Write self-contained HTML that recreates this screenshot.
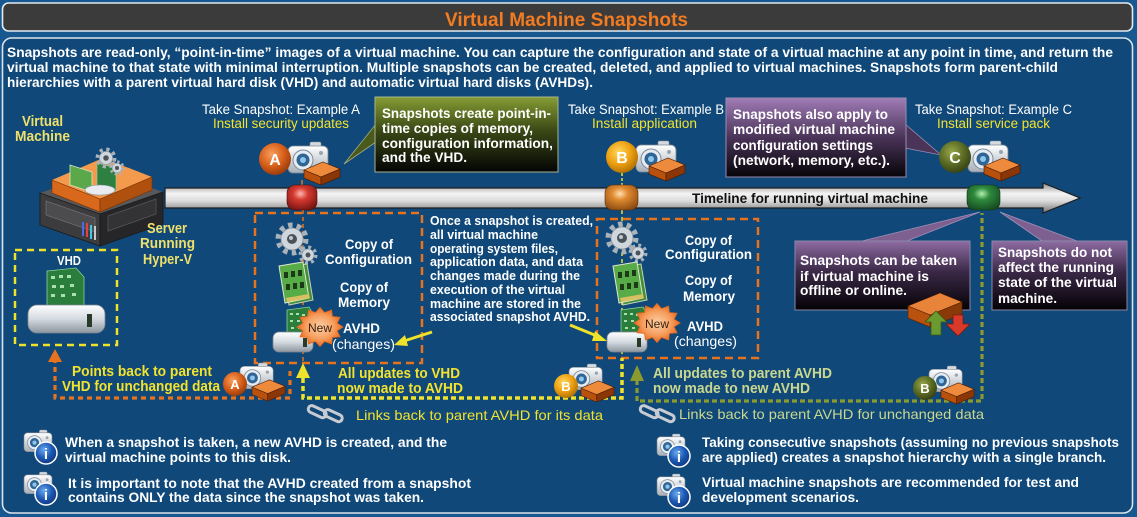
<!DOCTYPE html>
<html><head><meta charset="utf-8"><style>
html,body{margin:0;padding:0;background:#175890;}
svg{display:block}
text{font-family:"Liberation Sans",sans-serif;}
.w{fill:#fff;font-weight:bold;}
.wn{fill:#fff;}
.y{fill:#f3e32e;font-weight:bold;}
.yp{fill:#efe06a;font-weight:bold;}
.g{fill:#cad78e;font-weight:bold;}
</style></head><body>
<svg xmlns="http://www.w3.org/2000/svg" width="1137" height="517" viewBox="0 0 1137 517">
<defs>
 <linearGradient id="barG" x1="0" y1="0" x2="0" y2="1"><stop offset="0" stop-color="#8a8a8a"/><stop offset=".35" stop-color="#f4f4f4"/><stop offset=".6" stop-color="#dadada"/><stop offset="1" stop-color="#747474"/></linearGradient>
 <linearGradient id="camG" x1="0" y1="0" x2="0" y2="1"><stop offset="0" stop-color="#ffffff"/><stop offset="1" stop-color="#a6afb8"/></linearGradient>
 <linearGradient id="driveG" x1="0" y1="0" x2="0" y2="1"><stop offset="0" stop-color="#ffffff"/><stop offset=".5" stop-color="#d4dae0"/><stop offset="1" stop-color="#8c959e"/></linearGradient>
 <radialGradient id="redB" cx=".45" cy=".35" r=".7"><stop offset="0" stop-color="#ffb8b0"/><stop offset=".35" stop-color="#d63a30"/><stop offset="1" stop-color="#741410"/></radialGradient>
 <radialGradient id="oraB" cx=".45" cy=".35" r=".7"><stop offset="0" stop-color="#ffe0b0"/><stop offset=".35" stop-color="#e08a30"/><stop offset="1" stop-color="#8a4a10"/></radialGradient>
 <radialGradient id="grnB" cx=".45" cy=".35" r=".7"><stop offset="0" stop-color="#b0f0b0"/><stop offset=".35" stop-color="#2e8a3c"/><stop offset="1" stop-color="#164a22"/></radialGradient>
 <radialGradient id="cA" cx=".4" cy=".35" r=".75"><stop offset="0" stop-color="#f8a060"/><stop offset=".5" stop-color="#d8601a"/><stop offset="1" stop-color="#8a3208"/></radialGradient>
 <radialGradient id="cB" cx=".4" cy=".35" r=".75"><stop offset="0" stop-color="#ffd860"/><stop offset=".5" stop-color="#eea010"/><stop offset="1" stop-color="#a06400"/></radialGradient>
 <radialGradient id="cC" cx=".4" cy=".35" r=".75"><stop offset="0" stop-color="#98a84a"/><stop offset=".5" stop-color="#5c6c24"/><stop offset="1" stop-color="#2c3610"/></radialGradient>
 <radialGradient id="infoG" cx=".4" cy=".35" r=".75"><stop offset="0" stop-color="#6aaaf0"/><stop offset=".5" stop-color="#1c58b4"/><stop offset="1" stop-color="#0c3070"/></radialGradient>
 <radialGradient id="burstG" cx=".5" cy=".5" r=".5"><stop offset="0" stop-color="#fbd0a8"/><stop offset=".6" stop-color="#f6a060"/><stop offset="1" stop-color="#e86a20"/></radialGradient>
 <linearGradient id="grC" x1="0" y1="0" x2="0" y2="1"><stop offset="0" stop-color="#869c34"/><stop offset=".45" stop-color="#3a4816"/><stop offset="1" stop-color="#040404"/></linearGradient>
 <linearGradient id="puC" x1="0" y1="0" x2="0" y2="1"><stop offset="0" stop-color="#a07cb6"/><stop offset=".5" stop-color="#4a3458"/><stop offset="1" stop-color="#060408"/></linearGradient>
 <linearGradient id="puC2" x1="0" y1="0" x2="0" y2="1"><stop offset="0" stop-color="#8e6ca2"/><stop offset=".45" stop-color="#3a2846"/><stop offset="1" stop-color="#050306"/></linearGradient>
 <g id="cam">
  <rect x="22" y="0" width="11" height="6" rx="1.5" fill="#d5dade" stroke="#8a949e" stroke-width=".6"/>
  <rect x="0" y="4" width="40" height="27" rx="5" fill="url(#camG)" stroke="#7d8792" stroke-width=".8"/>
  <circle cx="15" cy="18" r="10" fill="#e6ebf0" stroke="#7a8a9a"/>
  <circle cx="15" cy="18" r="6.5" fill="#2f6494"/>
  <circle cx="15" cy="18" r="3" fill="#8cc6ee"/>
  <circle cx="33" cy="11" r="2" fill="#9aa4ae"/>
 </g>
 <g id="dbox" stroke="#4a1a00" stroke-width=".6">
  <polygon points="0,10 19,2 36,9 17,17" fill="#ee8a3c"/>
  <polygon points="0,10 17,17 17,25 0,18" fill="#b8500e"/>
  <polygon points="17,17 36,9 36,17 17,25" fill="#8a3606"/>
 </g>
 <polygon id="burst" fill="url(#burstG)" stroke="#e06a1c" stroke-width=".8" points="21,0 15.5,4.1 18.2,10.5 11.3,11.3 10.5,18.2 4.1,15.5 0,21 -4.1,15.5 -10.5,18.2 -11.3,11.3 -18.2,10.5 -15.5,4.1 -21,0 -15.5,-4.1 -18.2,-10.5 -11.3,-11.3 -10.5,-18.2 -4.1,-15.5 0,-21 4.1,-15.5 10.5,-18.2 11.3,-11.3 18.2,-10.5 15.5,-4.1"/>
 <g id="gear">
  <circle cx="0" cy="0" r="13" fill="none" stroke="#aab2ba" stroke-width="7" stroke-dasharray="4.2 3.97"/>
  <circle cx="0" cy="0" r="11" fill="#cfd6dc" stroke="#8a949e" stroke-width=".8"/>
  <circle cx="0" cy="0" r="5" fill="#4a525a"/>
  <circle cx="-1" cy="-1" r="2" fill="#c0c8d0"/>
 </g>
 <g id="sgear">
  <circle cx="0" cy="0" r="7" fill="none" stroke="#aab2ba" stroke-width="5" stroke-dasharray="2.6 2.9"/>
  <circle cx="0" cy="0" r="6" fill="#cfd6dc" stroke="#8a949e" stroke-width=".6"/>
  <circle cx="0" cy="0" r="2.5" fill="#4a525a"/>
 </g>
 <g id="mem">
  <polygon points="283,268 307,264 313,300 289,305" fill="#3f8e38" stroke="#c8d0b8" stroke-width="1"/>
  <polygon points="279,266 303,262 309,298 285,303" fill="#58ac48" stroke="#dfe6d0" stroke-width="1"/>
  <g fill="#1c3a18"><rect x="284" y="272" width="4" height="6"/><rect x="291" y="271" width="4" height="6"/><rect x="298" y="270" width="4" height="6"/><rect x="286" y="284" width="4" height="6"/><rect x="293" y="283" width="4" height="6"/><rect x="300" y="282" width="4" height="6"/></g>
  <polygon points="286,298 309,294 310,298 287,302" fill="#d8c060"/>
 </g>
 <g id="avhd">
  <polygon points="287,310 309,307 312,312 312,337 287,337" fill="#2b7d3c" stroke="#8ad09a" stroke-width=".8"/>
  <g fill="#a8e0b0"><rect x="290" y="313" width="3" height="2"/><rect x="296" y="313" width="3" height="2"/><rect x="302" y="314" width="3" height="2"/><rect x="290" y="320" width="3" height="2"/><rect x="297" y="320" width="3" height="2"/><rect x="304" y="321" width="3" height="2"/><rect x="291" y="327" width="3" height="2"/><rect x="298" y="327" width="3" height="2"/></g>
  <rect x="273" y="332" width="40" height="20" rx="6" fill="url(#driveG)" stroke="#7c8690" stroke-width=".8"/>
  <rect x="303" y="338" width="4" height="9" fill="#2a3a2a"/>
 </g>
</defs>

<!-- frame -->
<rect x="0" y="0" width="1137" height="517" fill="#175890"/>
<rect x="2.5" y="3" width="1130" height="28" rx="6" fill="#3b3b3b" stroke="#e4eaf0" stroke-width="1.6"/>
<rect x="2.5" y="38" width="1130" height="475" rx="9" fill="#0f4879" stroke="#dbe3eb" stroke-width="1.6"/>
<text x="445" y="26" font-size="19" font-weight="bold" fill="#f27c22" textLength="243" lengthAdjust="spacingAndGlyphs">Virtual Machine Snapshots</text>

<!-- intro -->
<text class="w" x="7" y="57" font-size="14" textLength="1106" lengthAdjust="spacingAndGlyphs">Snapshots are read-only, “point-in-time” images of a virtual machine. You can capture the configuration and state of a virtual machine at any point in time, and return the</text>
<text class="w" x="7" y="72" font-size="14" textLength="1051" lengthAdjust="spacingAndGlyphs">virtual machine to that state with minimal interruption. Multiple snapshots can be created, deleted, and applied to virtual machines. Snapshots form parent-child</text>
<text class="w" x="7" y="87" font-size="14" textLength="586" lengthAdjust="spacingAndGlyphs">hierarchies with a parent virtual hard disk (VHD) and automatic virtual hard disks (AVHDs).</text>

<!-- labels top -->
<text class="yp" x="22" y="126" font-size="15" textLength="41" lengthAdjust="spacingAndGlyphs">Virtual</text>
<text class="yp" x="15" y="141" font-size="15" textLength="55" lengthAdjust="spacingAndGlyphs">Machine</text>
<text class="wn" x="202" y="114" font-size="13.5" textLength="158" lengthAdjust="spacingAndGlyphs">Take Snapshot: Example A</text>
<text class="y" x="213" y="128" font-size="13.5" textLength="136" lengthAdjust="spacingAndGlyphs" style="font-weight:normal">Install security updates</text>
<text class="wn" x="568" y="114" font-size="13.5" textLength="156" lengthAdjust="spacingAndGlyphs">Take Snapshot: Example B</text>
<text class="y" x="592" y="128" font-size="13.5" textLength="105" lengthAdjust="spacingAndGlyphs" style="font-weight:normal">Install application</text>
<text class="wn" x="915" y="114" font-size="13.5" textLength="157" lengthAdjust="spacingAndGlyphs">Take Snapshot: Example C</text>
<text class="y" x="937" y="128" font-size="13.5" textLength="113" lengthAdjust="spacingAndGlyphs" style="font-weight:normal">Install service pack</text>

<!-- green callout -->
<polygon points="376,124 344,164 376,142" fill="#4a5a1c" stroke="#a0ac84" stroke-width=".8"/>
<rect x="375" y="97" width="183" height="75" fill="url(#grC)" stroke="#a8b48a" stroke-width="1"/>
<text class="w" x="382" y="118" font-size="14" textLength="169" lengthAdjust="spacingAndGlyphs">Snapshots create point-in-</text>
<text class="w" x="382" y="133" font-size="14" textLength="151" lengthAdjust="spacingAndGlyphs">time copies of memory,</text>
<text class="w" x="382" y="148" font-size="14" textLength="171" lengthAdjust="spacingAndGlyphs">configuration information,</text>
<text class="w" x="382" y="162" font-size="14" textLength="85" lengthAdjust="spacingAndGlyphs">and the VHD.</text>

<!-- purple top callout -->
<polygon points="905,124 941,155 905,148" fill="#4a3458" stroke="#9a8ab0" stroke-width=".8"/>
<rect x="726" y="98" width="180" height="79" fill="url(#puC)" stroke="#9a8ab0" stroke-width="1"/>
<text class="w" x="733" y="119" font-size="14" textLength="155" lengthAdjust="spacingAndGlyphs">Snapshots also apply to</text>
<text class="w" x="733" y="134" font-size="14" textLength="162" lengthAdjust="spacingAndGlyphs">modified virtual machine</text>
<text class="w" x="733" y="150" font-size="14" textLength="140" lengthAdjust="spacingAndGlyphs">configuration settings</text>
<text class="w" x="733" y="165" font-size="14" textLength="157" lengthAdjust="spacingAndGlyphs">(network, memory, etc.).</text>

<!-- server VM -->
<g>
 <polygon points="40,193 103,171 163,192 100,214" fill="#58585a"/>
 <polygon points="40,193 100,214 100,246 40,225" fill="#3c3c3e" stroke="#1a1a1a" stroke-width=".8"/>
 <polygon points="100,214 163,192 163,224 100,246" fill="#262628" stroke="#1a1a1a" stroke-width=".8"/>
 <polygon points="46,201 95,218 95,232 46,215" fill="#4c4c4e" stroke="#6e6e70" stroke-width=".8"/>
 <polygon points="108,216 156,199 156,214 108,231" fill="#333335" stroke="#555" stroke-width=".8"/>
 <g stroke-width="2"><line x1="83" y1="222" x2="83" y2="236" stroke="#4a6ae8"/><line x1="87" y1="223" x2="87" y2="237" stroke="#e84040"/><line x1="91" y1="225" x2="91" y2="239" stroke="#40c8e8"/><line x1="95" y1="226" x2="95" y2="240" stroke="#c8c8c8"/></g>
 <polygon points="52,180 103,158 152,177 100,199" fill="#f39a4c"/>
 <polygon points="52,180 100,199 100,212 52,193" fill="#d8691c" stroke="#7a3000" stroke-width=".6"/>
 <polygon points="100,199 152,177 152,190 100,212" fill="#b0500e" stroke="#7a3000" stroke-width=".6"/>
 <polygon points="70,165 92,172 92,192 70,185" fill="#5aa84a" stroke="#d8e4c8" stroke-width=".8"/>
 <polygon points="97,163 116,168 116,191 97,186" fill="#2e8040" stroke="#9ad0a0" stroke-width=".6"/>
 <use href="#sgear" transform="translate(106,158) scale(1.1)"/>
 <use href="#sgear" transform="translate(117,168) scale(.8)"/>
 <ellipse cx="100" cy="190" rx="15" ry="5" fill="#e8ecf0" stroke="#8a949e" stroke-width=".6"/>
</g>

<!-- timeline -->
<path d="M165,188 H1043 V183 L1080,198 L1043,213 V208 H165 Z" fill="url(#barG)" stroke="#1e1e1e" stroke-width="1.2"/>
<text x="692" y="203" font-size="14" font-weight="bold" fill="#111" textLength="236" lengthAdjust="spacingAndGlyphs">Timeline for running virtual machine</text>

<!-- dashed boxes & paths -->
<rect x="255" y="213" width="167" height="150" fill="none" stroke="#e8731c" stroke-width="2.5" stroke-dasharray="8 5"/>
<rect x="597" y="219" width="161" height="139" fill="none" stroke="#e8731c" stroke-width="2.5" stroke-dasharray="8 5"/>
<rect x="15" y="250" width="102" height="95" fill="none" stroke="#efe22a" stroke-width="2.5" stroke-dasharray="7 5"/>
<line x1="302" y1="180" x2="302" y2="188" stroke="#e8731c" stroke-width="1.5"/>
<line x1="303" y1="210" x2="303" y2="362" stroke="#e8731c" stroke-width="1.5" stroke-dasharray="4 3"/>
<line x1="622" y1="173" x2="622" y2="188" stroke="#efe22a" stroke-width="1.5" stroke-dasharray="3 2"/>
<line x1="622" y1="210" x2="622" y2="357" stroke="#efe22a" stroke-width="1.5" stroke-dasharray="4 3"/>
<path d="M290,371 V398 H55 V360" fill="none" stroke="#e8731c" stroke-width="3.2" stroke-dasharray="5 4"/>
<polygon points="48,362 55,349 62,362" fill="#e8731c"/>
<path d="M303,378 V398 H622 V358" fill="none" stroke="#efe22a" stroke-width="3.5" stroke-dasharray="5 3"/>
<polygon points="296,378 303,363 310,378" fill="#efe22a"/>
<path d="M637,380 V401 H982 V213" fill="none" stroke="#8a9a2e" stroke-width="3.2" stroke-dasharray="5 3"/>
<polygon points="630,381 637,365 644,381" fill="#8a9a2e"/>

<!-- beads -->
<rect x="287" y="185" width="30" height="25" rx="8" fill="url(#redB)" stroke="#4a0a08" stroke-width=".6"/>
<rect x="605" y="185" width="33" height="25" rx="8" fill="url(#oraB)" stroke="#5a2a08" stroke-width=".6"/>
<rect x="967" y="185" width="33" height="25" rx="8" fill="url(#grnB)" stroke="#0a3a12" stroke-width=".6"/>

<!-- snapshot groups top -->
<use href="#cam" transform="translate(288,142)"/>
<circle cx="275" cy="159" r="16" fill="url(#cA)"/>
<text x="275" y="165" font-size="16" font-weight="bold" fill="#fff" text-anchor="middle">A</text>
<use href="#dbox" transform="translate(304,160)"/>

<use href="#cam" transform="translate(636,141)"/>
<circle cx="622" cy="157" r="16" fill="url(#cB)"/>
<text x="622" y="163" font-size="16" font-weight="bold" fill="#fff" text-anchor="middle">B</text>
<use href="#dbox" transform="translate(649,156)"/>

<use href="#cam" transform="translate(968,141)"/>
<circle cx="955" cy="157" r="16" fill="url(#cC)"/>
<text x="955" y="163" font-size="16" font-weight="bold" fill="#fff" text-anchor="middle">C</text>
<use href="#dbox" transform="translate(984,156)"/>

<!-- server label -->
<text class="yp" x="147" y="233" font-size="15" textLength="40" lengthAdjust="spacingAndGlyphs">Server</text>
<text class="yp" x="140" y="248" font-size="15" textLength="55" lengthAdjust="spacingAndGlyphs">Running</text>
<text class="yp" x="143" y="264" font-size="15" textLength="49" lengthAdjust="spacingAndGlyphs">Hyper-V</text>

<!-- VHD box -->
<text class="w" x="57" y="265" font-size="13" textLength="24" lengthAdjust="spacingAndGlyphs">VHD</text>
<polygon points="47,271 76,268 84,277 84,322 47,322" fill="#2b7d3c" stroke="#8ad09a" stroke-width=".8"/>
<g fill="#a8e0b0"><rect x="51" y="276" width="4" height="3"/><rect x="59" y="275" width="4" height="3"/><rect x="67" y="275" width="4" height="3"/><rect x="52" y="285" width="4" height="3"/><rect x="60" y="285" width="4" height="3"/><rect x="70" y="284" width="4" height="3"/><rect x="51" y="294" width="4" height="3"/><rect x="61" y="294" width="4" height="3"/><rect x="72" y="293" width="4" height="3"/></g>
<rect x="28" y="305" width="77" height="28" rx="9" fill="url(#driveG)" stroke="#7c8690" stroke-width=".8"/>
<rect x="87" y="314" width="5" height="13" fill="#2a3a2a"/>

<!-- Box A contents -->
<use href="#gear" transform="translate(292,239)"/>
<use href="#sgear" transform="translate(308,255)"/>
<use href="#mem"/>
<use href="#avhd"/>
<use href="#burst" transform="translate(320,327) scale(1.1,.93)"/>
<text x="320" y="332" font-size="12" fill="#3a1e0a" text-anchor="middle" textLength="24" lengthAdjust="spacingAndGlyphs">New</text>
<text class="w" x="345" y="249" font-size="14" textLength="48" lengthAdjust="spacingAndGlyphs">Copy of</text>
<text class="w" x="325" y="264" font-size="14" textLength="87" lengthAdjust="spacingAndGlyphs">Configuration</text>
<text class="w" x="340" y="292" font-size="14" textLength="48" lengthAdjust="spacingAndGlyphs">Copy of</text>
<text class="w" x="338" y="307" font-size="14" textLength="52" lengthAdjust="spacingAndGlyphs">Memory</text>
<text class="w" x="343" y="333" font-size="14" textLength="37" lengthAdjust="spacingAndGlyphs">AVHD</text>
<text class="wn" x="332" y="349" font-size="14" textLength="63" lengthAdjust="spacingAndGlyphs">(changes)</text>

<!-- Box B contents -->
<use href="#gear" transform="translate(622,238)"/>
<use href="#sgear" transform="translate(638,253)"/>
<use href="#mem" transform="translate(334,0)"/>
<use href="#avhd" transform="translate(334,0)"/>
<use href="#burst" transform="translate(657,323) scale(1.1,.93)"/>
<text x="657" y="328" font-size="12" fill="#3a1e0a" text-anchor="middle" textLength="24" lengthAdjust="spacingAndGlyphs">New</text>
<text class="w" x="685" y="245" font-size="14" textLength="47" lengthAdjust="spacingAndGlyphs">Copy of</text>
<text class="w" x="665" y="259" font-size="14" textLength="87" lengthAdjust="spacingAndGlyphs">Configuration</text>
<text class="w" x="685" y="285" font-size="14" textLength="47" lengthAdjust="spacingAndGlyphs">Copy of</text>
<text class="w" x="683" y="301" font-size="14" textLength="52" lengthAdjust="spacingAndGlyphs">Memory</text>
<text class="w" x="687" y="331" font-size="14" textLength="36" lengthAdjust="spacingAndGlyphs">AVHD</text>
<text class="wn" x="674" y="346" font-size="14" textLength="63" lengthAdjust="spacingAndGlyphs">(changes)</text>

<!-- paragraph -->
<text class="w" x="430" y="225" font-size="13" textLength="163" lengthAdjust="spacingAndGlyphs">Once a snapshot is created,</text>
<text class="w" x="430" y="239" font-size="13" textLength="108" lengthAdjust="spacingAndGlyphs">all virtual machine</text>
<text class="w" x="430" y="253" font-size="13" textLength="128" lengthAdjust="spacingAndGlyphs">operating system files,</text>
<text class="w" x="430" y="266" font-size="13" textLength="153" lengthAdjust="spacingAndGlyphs">application data, and data</text>
<text class="w" x="430" y="280" font-size="13" textLength="150" lengthAdjust="spacingAndGlyphs">changes made during the</text>
<text class="w" x="430" y="294" font-size="13" textLength="135" lengthAdjust="spacingAndGlyphs">execution of the virtual</text>
<text class="w" x="430" y="308" font-size="13" textLength="151" lengthAdjust="spacingAndGlyphs">machine are stored in the</text>
<text class="w" x="430" y="321" font-size="13" textLength="160" lengthAdjust="spacingAndGlyphs">associated snapshot AVHD.</text>

<!-- yellow arrows -->
<line x1="432" y1="332" x2="404" y2="341" stroke="#efe22a" stroke-width="3"/>
<polygon points="394,345 405,335 408,346" fill="#efe22a"/>
<line x1="570" y1="325" x2="597" y2="336" stroke="#efe22a" stroke-width="3"/>
<polygon points="607,341 595,331 592,341" fill="#efe22a"/>

<!-- lower purple callouts -->
<polygon points="862,241 980,212 907,241" fill="#7d6090" stroke="#a090b8" stroke-width=".8"/>
<polygon points="1042,241 1000,212 1077,241" fill="#7d6090" stroke="#a090b8" stroke-width=".8"/>
<rect x="795" y="241" width="175" height="69" fill="url(#puC2)" stroke="#8a86a8" stroke-width="1"/>
<rect x="992" y="241" width="135" height="69" fill="url(#puC2)" stroke="#8a86a8" stroke-width="1"/>
<text class="w" x="800" y="265" font-size="14" textLength="157" lengthAdjust="spacingAndGlyphs">Snapshots can be taken</text>
<text class="w" x="800" y="281" font-size="14" textLength="129" lengthAdjust="spacingAndGlyphs">if virtual machine is</text>
<text class="w" x="800" y="295" font-size="14" textLength="107" lengthAdjust="spacingAndGlyphs">offline or online.</text>
<text class="w" x="998" y="257" font-size="14" textLength="114" lengthAdjust="spacingAndGlyphs">Snapshots do not</text>
<text class="w" x="998" y="272" font-size="14" textLength="116" lengthAdjust="spacingAndGlyphs">affect the running</text>
<text class="w" x="998" y="287" font-size="14" textLength="119" lengthAdjust="spacingAndGlyphs">state of the virtual</text>
<text class="w" x="998" y="303" font-size="14" textLength="59" lengthAdjust="spacingAndGlyphs">machine.</text>

<!-- server up/down -->
<polygon points="908,306 940,293 962,302 930,315" fill="#e8843a" stroke="#5a2000" stroke-width=".6"/>
<polygon points="908,306 930,315 930,327 908,318" fill="#b8520e" stroke="#5a2000" stroke-width=".6"/>
<polygon points="930,315 962,302 962,314 930,327" fill="#8a3a08" stroke="#5a2000" stroke-width=".6"/>
<polygon points="936,311 947,322 941,322 941,335 931,335 931,322 925,322" fill="#6a9a30" stroke="#3a5a10" stroke-width=".8"/>
<polygon points="953,315 963,315 963,324 970,324 958,336 946,324 953,324" fill="#d83a2a" stroke="#7a1a10" stroke-width=".8"/>

<!-- lower labels -->
<text class="y" x="72" y="376" font-size="15" textLength="140" lengthAdjust="spacingAndGlyphs">Points back to parent</text>
<text class="y" x="62" y="391" font-size="15" textLength="158" lengthAdjust="spacingAndGlyphs">VHD for unchanged data</text>
<text class="y" x="338" y="378" font-size="15" textLength="122" lengthAdjust="spacingAndGlyphs">All updates to VHD</text>
<text class="y" x="337" y="393" font-size="15" textLength="126" lengthAdjust="spacingAndGlyphs">now made to AVHD</text>
<text class="g" x="653" y="378" font-size="15" textLength="179" lengthAdjust="spacingAndGlyphs">All updates to parent AVHD</text>
<text class="g" x="653" y="393" font-size="15" textLength="157" lengthAdjust="spacingAndGlyphs">now made to new AVHD</text>

<!-- small snapshot groups -->
<use href="#cam" transform="translate(240,363) scale(.83)"/>
<circle cx="235" cy="384" r="12" fill="url(#cA)"/>
<text x="235" y="389" font-size="13" font-weight="bold" fill="#fff" text-anchor="middle">A</text>
<use href="#dbox" transform="translate(252,378) scale(.92)"/>

<use href="#cam" transform="translate(569,364) scale(.83)"/>
<circle cx="566" cy="386" r="12" fill="url(#cB)"/>
<text x="566" y="391" font-size="13" font-weight="bold" fill="#fff" text-anchor="middle">B</text>
<use href="#dbox" transform="translate(581,379) scale(.92)"/>

<use href="#cam" transform="translate(929,366) scale(.83)"/>
<circle cx="925" cy="388" r="12" fill="url(#cC)"/>
<text x="925" y="393" font-size="13" font-weight="bold" fill="#fff" text-anchor="middle">B</text>
<use href="#dbox" transform="translate(941,381) scale(.92)"/>

<!-- links -->
<g stroke="#c8ccd2" stroke-width="3" fill="none">
 <rect x="308" y="408" width="19" height="7" rx="3.5" transform="rotate(25 317 411)"/>
 <rect x="324" y="412" width="19" height="7" rx="3.5" transform="rotate(25 333 415)"/>
 <rect x="640" y="408" width="19" height="7" rx="3.5" transform="rotate(25 649 411)"/>
 <rect x="656" y="412" width="19" height="7" rx="3.5" transform="rotate(25 665 415)"/>
</g>
<text class="y" x="356" y="420" font-size="14" textLength="247" lengthAdjust="spacingAndGlyphs" style="font-weight:normal">Links back to parent AVHD for its data</text>
<text class="g" x="679" y="419" font-size="14" textLength="305" lengthAdjust="spacingAndGlyphs" style="font-weight:normal">Links back to parent AVHD for unchanged data</text>

<!-- info icons -->
<use href="#cam" transform="translate(24,430) scale(.7)"/>
<circle cx="46" cy="453" r="11" fill="url(#infoG)" stroke="#fff" stroke-width="1.5"/>
<text x="46" y="459" font-size="15" font-weight="bold" fill="#fff" text-anchor="middle">i</text>
<use href="#cam" transform="translate(24,472) scale(.7)"/>
<circle cx="46" cy="494" r="11" fill="url(#infoG)" stroke="#fff" stroke-width="1.5"/>
<text x="46" y="500" font-size="15" font-weight="bold" fill="#fff" text-anchor="middle">i</text>
<use href="#cam" transform="translate(657,434) scale(.7)"/>
<circle cx="679" cy="456" r="11" fill="url(#infoG)" stroke="#fff" stroke-width="1.5"/>
<text x="679" y="462" font-size="15" font-weight="bold" fill="#fff" text-anchor="middle">i</text>
<use href="#cam" transform="translate(657,474) scale(.7)"/>
<circle cx="679" cy="497" r="11" fill="url(#infoG)" stroke="#fff" stroke-width="1.5"/>
<text x="679" y="503" font-size="15" font-weight="bold" fill="#fff" text-anchor="middle">i</text>

<text class="w" x="65" y="447" font-size="14" textLength="382" lengthAdjust="spacingAndGlyphs">When a snapshot is taken, a new AVHD is created, and the</text>
<text class="w" x="65" y="462" font-size="14" textLength="226" lengthAdjust="spacingAndGlyphs">virtual machine points to this disk.</text>
<text class="w" x="68" y="488" font-size="14" textLength="403" lengthAdjust="spacingAndGlyphs">It is important to note that the AVHD created from a snapshot</text>
<text class="w" x="68" y="502" font-size="14" textLength="356" lengthAdjust="spacingAndGlyphs">contains ONLY the data since the snapshot was taken.</text>
<text class="w" x="702" y="447" font-size="14" textLength="417" lengthAdjust="spacingAndGlyphs">Taking consecutive snapshots (assuming no previous snapshots</text>
<text class="w" x="702" y="462" font-size="14" textLength="404" lengthAdjust="spacingAndGlyphs">are applied) creates a snapshot hierarchy with a single branch.</text>
<text class="w" x="702" y="487" font-size="14" textLength="377" lengthAdjust="spacingAndGlyphs">Virtual machine snapshots are recommended for test and</text>
<text class="w" x="702" y="502" font-size="14" textLength="157" lengthAdjust="spacingAndGlyphs">development scenarios.</text>
</svg>
</body></html>
